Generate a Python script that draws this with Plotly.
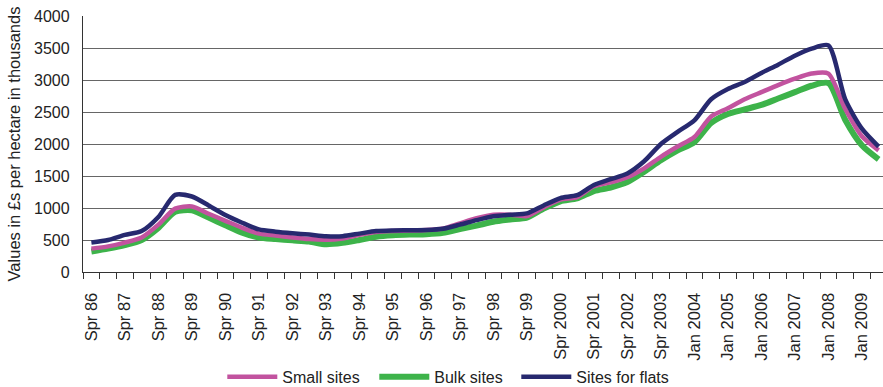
import plotly.graph_objects as go

# Half-yearly survey periods (spring/autumn until 2003, then January/July)
periods = []
for yr in range(1986, 2004):
    short = f"{yr % 100:02d}" if yr < 2000 else str(yr)
    periods += [f"Spr {short}", f"Aut {short}"]
for yr in range(2004, 2010):
    periods += [f"Jan {yr}", f"Jul {yr}"]

# Land values, £ thousands per hectare
small_sites = [365, 400, 460, 540, 740, 990, 1025, 910, 800, 690, 600, 570,
               540, 515, 505, 525, 580, 625, 640, 648, 655, 680, 760, 840,
               895, 895, 875, 1010, 1130, 1170, 1340, 1400, 1480, 1620, 1800, 1960,
               2110, 2430, 2560, 2700, 2810, 2920, 3020, 3100, 3100, 2550, 2120, 1900]
bulk_sites = [320, 365, 420, 500, 690, 940, 965, 850, 730, 615, 537, 515,
              495, 475, 433, 455, 500, 550, 573, 584, 590, 612, 670, 725,
              785, 820, 850, 990, 1105, 1150, 1265, 1320, 1405, 1565, 1745, 1900,
              2030, 2330, 2470, 2540, 2610, 2710, 2810, 2910, 2950, 2380, 1980, 1760]
flat_sites = [460, 500, 580, 640, 860, 1205, 1180, 1040, 890, 770, 665, 630,
              605, 585, 560, 560, 600, 640, 650, 652, 656, 675, 740, 810,
              870, 895, 915, 1040, 1155, 1200, 1360, 1450, 1540, 1730, 2000, 2190,
              2370, 2700, 2860, 2970, 3110, 3240, 3380, 3490, 3540, 2700, 2240, 1960]

y_ticks = list(range(0, 4001, 500))

x = list(range(len(periods)))
FONT = "Liberation Sans, Arial, Helvetica, sans-serif"

fig = go.Figure()
# name, values, colour, line width, legend position, legend entry width
series = [
    ("Bulk sites", bulk_sites, "#3DB34A", 6, 2, 77),
    ("Small sites", small_sites, "#C2539F", 4.5, 1, 87),
    ("Sites for flats", flat_sites, "#27296F", 4.5, 3, 100),
]
for name, vals, color, width, rank, lw in series:
    fig.add_trace(go.Scatter(
        x=x, y=vals, name=name, mode="lines", legendrank=rank, legendwidth=lw,
        line=dict(color=color, width=width, shape="spline", smoothing=0.7),
    ))

fig.update_layout(
    width=883, height=387,
    margin=dict(l=83, r=0, t=16, b=115, autoexpand=False),
    paper_bgcolor="white", plot_bgcolor="white",
    font=dict(family=FONT, size=16, color="#222"),
    showlegend=True,
    legend=dict(orientation="h", x=0.461, xanchor="center",
                yref="container", y=0.026, yanchor="middle",
                font=dict(size=16), itemwidth=50, traceorder="normal"),
)
fig.update_xaxes(
    range=[-0.5, 47.26], showgrid=False, zeroline=False, automargin=False,
    showline=True, linecolor="#333", linewidth=1.3,
    tickmode="array", tickvals=x[::2], ticktext=periods[::2],
    tickangle=-90, ticks="", ticklabelstandoff=13, tickfont=dict(size=16.5),
    minor=dict(tickmode="array", tickvals=[i - 0.5 for i in range(len(periods) + 1)],
               ticks="outside", ticklen=6, tickwidth=1.3, tickcolor="#333", showgrid=False),
)
fig.update_yaxes(
    range=[0, 4000], tickvals=y_ticks, showgrid=True, gridcolor="#666", gridwidth=1,
    zeroline=False, automargin=False, showline=True, linecolor="#333", linewidth=1.3,
    ticks="", ticklabelstandoff=9,
    title=dict(text="Values in £s per hectare in thousands", standoff=9, font=dict(size=16.5)),
)

fig.write_html("out.html")
